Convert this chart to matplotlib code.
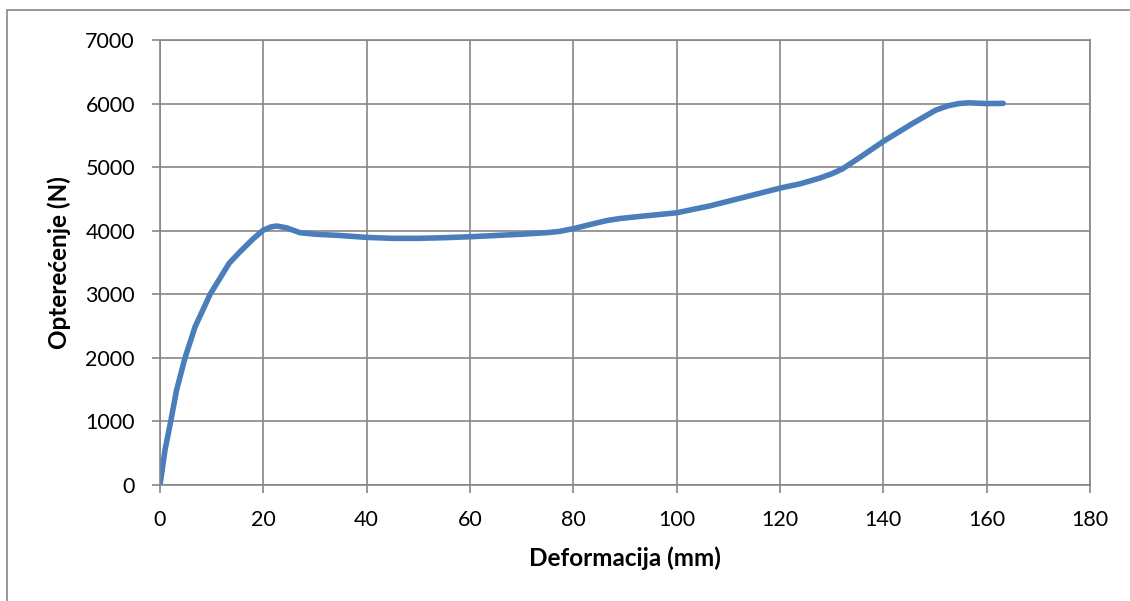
import matplotlib.pyplot as plt
from matplotlib.patches import Rectangle

# deformation (mm) and load (N)
deformacija = [0, 0.97, 2.07, 3.2, 4.84, 6.8, 9.7, 13.4, 15.5, 18, 20, 21.5, 22.6, 24.5,
               27.1, 30, 34.8, 40, 45, 50, 55, 60, 65, 70, 75, 77.3, 80, 83.7, 86.5, 88.9, 93.4,
               100, 106.3, 112.8, 120, 124, 127.6, 130, 132.1, 135.4, 140, 145.6, 150.1, 152.5,
               154.6, 156.5, 158.5, 160, 163.2]
opterecenje = [0, 550, 1000, 1490, 2000, 2490, 3000, 3490, 3670, 3870, 4010, 4060, 4074,
               4045, 3969, 3945, 3925, 3895, 3880, 3880, 3890, 3905, 3925, 3945, 3970, 3989, 4032,
               4106, 4160, 4191, 4229, 4282, 4388, 4521, 4670, 4740, 4825, 4895, 4973, 5150, 5405,
               5684, 5895, 5965, 6000, 6012, 6005, 6000, 6003]

x_ticks = list(range(0, 181, 20))
y_ticks = list(range(0, 7001, 1000))

plt.rcParams["font.family"] = ["Lato", "DejaVu Sans"]

fig = plt.figure(figsize=(11.3, 6.01), dpi=100)
ax = fig.add_axes([160 / 1130, 1 - 485 / 601, 930 / 1130, 445 / 601])

ax.plot(deformacija, opterecenje, color="#4A7EBB", linewidth=4, solid_capstyle="round",
        solid_joinstyle="round")

ax.set_xlim(0, 180)
ax.set_ylim(0, 7000)
ax.set_xticks(x_ticks)
ax.set_yticks(y_ticks)
ax.grid(True, color="#868686", linewidth=1.2)
ax.set_axisbelow(True)
for s in ax.spines.values():
    s.set_color("#868686")
    s.set_linewidth(1.2)
ax.tick_params(colors="#868686", labelcolor="black", labelsize=15.5, length=6, width=1.2)
ax.tick_params(axis="y", pad=12)
ax.tick_params(axis="x", pad=12)

ax.set_xlabel("Deformacija (mm)", fontsize=17.5, fontweight="bold", labelpad=12)
ax.set_ylabel("Opterećenje (N)", fontsize=17.5, fontweight="bold", labelpad=10)

fig.patches.append(Rectangle((7 / 1130, -0.1), 1.2, 1 - 10 / 601 + 0.1, transform=fig.transFigure,
                             fill=False, edgecolor="#888888", linewidth=1.2))

fig.savefig("out.png", dpi=100)
